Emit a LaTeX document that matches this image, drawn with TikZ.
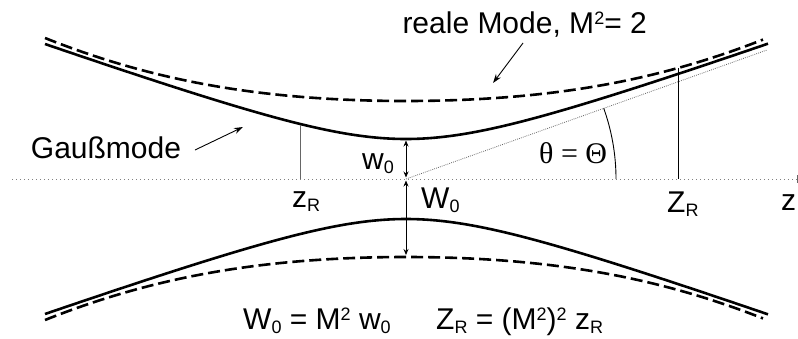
\documentclass[tikz,border=0pt]{standalone}
\usepackage{fontspec}
\setmainfont{Liberation Sans}
\newfontfamily\grserif{Liberation Serif}
\usetikzlibrary{arrows.meta}
\newcommand{\mysub}[1]{\raisebox{-4.5pt}{\fontsize{18}{18}\selectfont #1}}
\newcommand{\mysup}[1]{\raisebox{9pt}{\fontsize{18}{18}\selectfont #1}}
\begin{document}
\begin{tikzpicture}[x=1pt,y=-1pt,
  beam/.style={line width=2.6pt},
  realbeam/.style={line width=2.6pt, dash pattern=on 12pt off 5pt},
  axisline/.style={gray, line width=0.9pt, dash pattern=on 1pt off 3pt},
  asym/.style={black!60, line width=0.8pt, dash pattern=on 0.8pt off 1.2pt},
  marker/.style={line width=0.9pt},
  graymarker/.style={black!60, line width=0.9pt},
  dimarrow/.style={line width=0.9pt,{Stealth[length=6pt,width=5pt]}-{Stealth[length=6pt,width=5pt]}},
  pointer/.style={line width=0.9pt,-{Stealth[length=9pt,width=6pt]}},
  lbl/.style={font=\fontsize{30}{36}\selectfont, inner sep=0pt, anchor=base}
]
\useasboundingbox (0,0) rectangle (798,338);
\def\wz{40}\def\zr{112}
% key coordinates
\coordinate (O) at (406,179);
\coordinate (axL) at (12,179);
\coordinate (axR) at (797,179);
\coordinate (tickT) at (797,175);
\coordinate (tickB) at (797,183);
\coordinate (asymEnd) at (767,50);
% axis
\draw[axisline] (axL) -- (axR);
\draw[black!60, line width=0.8pt] (tickT) -- (tickB);
% beams
\draw[beam] plot[domain=-361:362, samples=160] ({406+\x}, {179-\wz*sqrt(1+(\x/\zr)^2)});
\draw[beam] plot[domain=-361:362, samples=160] ({406+\x}, {179+\wz*sqrt(1+(\x/\zr)^2)});
\draw[realbeam] plot[domain=-361:357, samples=160] ({406+\x}, {179-10*sqrt(60.84+5.596*(\x/100)^2+0.383*(\x/100)^4)});
\draw[realbeam] plot[domain=-361:357, samples=160] ({406+\x}, {179+10*sqrt(60.84+5.596*(\x/100)^2+0.383*(\x/100)^4)});
% asymptote and angle
\draw[asym] (O) -- (asymEnd);
\coordinate (arcStart) at (616,179);
\draw[marker] (arcStart) arc[start angle=0, end angle=-19.7, radius=210];
% Rayleigh markers
\coordinate (zrTop) at (300,124.5);
\coordinate (zrBot) at (300,179);
\draw[graymarker] (zrTop) -- (zrBot);
\coordinate (ZrTop) at (678,68);
\coordinate (ZrBot) at (678,179);
\draw[marker] (ZrTop) -- (ZrBot);
% waist arrows
\coordinate (w0T) at (406,140.5);
\coordinate (w0B) at (406,177.5);
\draw[dimarrow] (w0T) -- (w0B);
\coordinate (W0T) at (406,180.5);
\coordinate (W0B) at (406,255);
\draw[dimarrow] (W0T) -- (W0B);
% labels
\node[lbl, anchor=base east] (reale) at (647,33) {reale Mode, M\mysup{2}= 2};
\coordinate (realeTip) at (493,83);
\coordinate (realeTail) at (523,43);
\draw[pointer] (realeTail) -- (realeTip);
\node[lbl] (gauss) at (106,158) {Gaußmode};
\coordinate (gaussTail) at (195,150);
\coordinate (gaussTip) at (243,127);
\draw[pointer] (gaussTail) -- (gaussTip);
\node[lbl, anchor=base west] (w0) at (362,169) {w\mysub{0}};
\node[lbl, anchor=base west] (W0) at (421,208) {W\mysub{0}};
\node[lbl, anchor=base west] (zR) at (292,207) {z\mysub{R}};
\node[lbl, anchor=base west] (ZR) at (667,212) {Z\mysub{R}};
\node[lbl, anchor=base west] (z) at (781,210) {z};
\node[lbl, anchor=base west] (theta) at (539,163) {\grserif θ = Θ};
\node[lbl, anchor=base west] (formulaA) at (243,329) {W\mysub{0} = M\mysup{2} w\mysub{0}};
\node[lbl, anchor=base west] (formulaB) at (436,329) {Z\mysub{R} = (M\mysup{2})\mysup{2} z\mysub{R}};
\end{tikzpicture}
\end{document}
